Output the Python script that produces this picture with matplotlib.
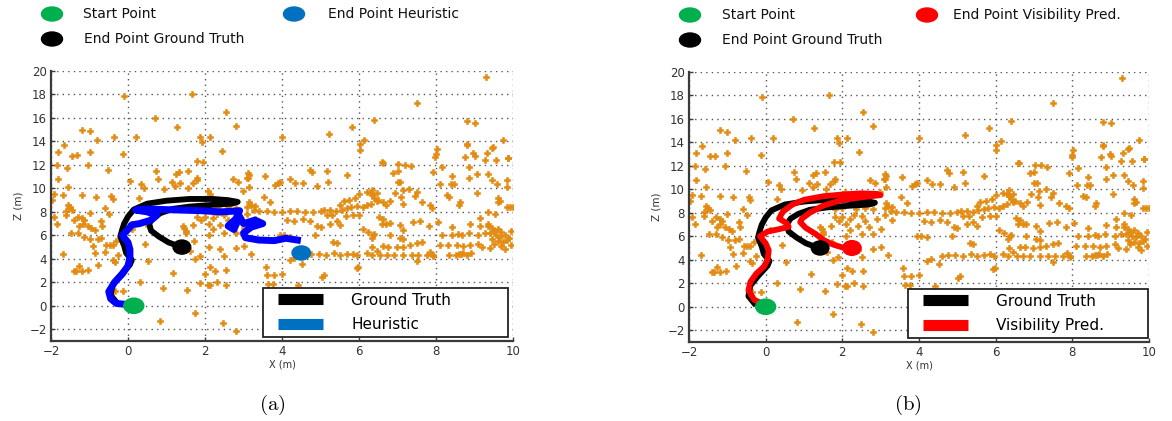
import matplotlib
matplotlib.use("Agg")
import matplotlib.pyplot as plt
from matplotlib.lines import Line2D
from matplotlib.patches import Ellipse
from matplotlib.legend_handler import HandlerLine2D

plt.rcParams['font.family'] = ['DejaVu Sans']
plt.rcParams['mathtext.fontset'] = 'cm'

# ---------------- data ----------------
landmarks = [
    (9.3, 19.5), (-0.1, 17.85), (1.65, 18.0), (7.5, 17.3), (0.7, 16.0), (2.55, 16.55), (6.4, 15.8),
    (8.8, 15.7), (9.0, 15.6), (-1.2, 15.0), (-1.0, 14.9), (1.26, 15.2), (2.81, 15.35), (5.82, 15.2),
    (-0.37, 14.4), (0.2, 14.4), (-0.8, 14.15), (1.87, 14.4), (2.12, 14.4), (1.92, 13.97), (3.99, 14.35),
    (5.21, 14.6), (9.75, 14.15), (-1.66, 13.7), (-1.81, 13.1), (-1.0, 13.1), (-1.45, 12.8), (-1.33, 12.85),
    (-0.12, 12.95), (2.43, 13.2), (6.02, 13.8), (6.13, 14.1), (6.02, 13.3), (8.03, 13.35), (8.0, 12.9),
    (7.98, 12.7), (8.8, 13.7), (9.45, 13.4), (9.33, 13.05), (8.75, 12.7), (9.0, 12.8), (8.97, 12.98),
    (9.87, 12.6), (8.81, 13.75), (9.47, 13.5), (1.78, 12.33), (1.94, 12.28), (-1.84, 12.0), (-1.05, 12.0),
    (-1.58, 11.76), (-0.51, 11.56), (0.74, 11.5), (1.24, 11.22), (1.32, 11.37), (1.56, 11.45), (3.11, 11.28),
    (6.59, 12.27), (6.62, 12.2), (7.19, 12.02), (7.34, 11.93), (7.02, 12.05), (9.26, 12.4), (9.56, 12.4),
    (9.86, 12.56), (8.15, 11.79), (8.87, 11.85), (6.89, 11.34), (7.0, 11.5), (7.91, 11.37), (9.07, 11.2),
    (8.41, 11.05), (8.38, 10.37), (8.46, 10.4), (9.35, 11.2), (9.45, 10.7), (8.87, 10.91), (7.01, 10.57),
    (7.07, 10.57), (9.58, 10.4), (9.85, 10.71), (8.11, 10.35), (9.84, 10.1), (4.73, 11.6), (4.77, 11.4),
    (5.16, 11.5), (5.2, 10.57), (5.7, 11.14), (3.56, 11.05), (3.13, 11.1), (3.08, 10.85), (3.95, 10.55),
    (3.9, 10.45), (3.82, 10.3), (4.21, 10.77), (4.34, 10.43), (4.55, 10.43), (4.9, 10.2), (-1.83, 10.77),
    (0.05, 10.63), (0.79, 10.83), (1.13, 10.54), (1.35, 10.43), (1.68, 10.43), (1.78, 10.7), (1.8, 10.9),
    (2.73, 10.77), (2.85, 10.54), (3.11, 10.86),
    (-1.56, 10.15), (0.35, 10.4), (0.41, 10.03), (0.94, 9.95), (1.23, 10.2), (1.57, 10.0), (2.08, 9.78),
    (2.14, 9.52), (-1.91, 9.52), (-1.69, 9.4), (-1.19, 9.44), (-0.84, 9.3), (-0.44, 9.35), (-0.4, 9.07),
    (0.29, 9.2), (2.98, 9.8), (3.15, 10.15), (-1.97, 9.04), (-1.55, 8.55), (-1.5, 8.4), (-1.45, 8.2),
    (-1.52, 8.3), (3.53, 9.3), (3.13, 8.87), (3.2, 8.58), (3.26, 8.16), (3.69, 8.87), (5.5, 8.6), (5.6, 8.9),
    (5.75, 9.0), (5.9, 9.2), (6.0, 9.5), (6.2, 9.7), (6.35, 9.9), (6.46, 9.6), (6.3, 9.6), (6.35, 9.4),
    (6.5, 9.0), (6.4, 9.2), (6.93, 9.63), (7.13, 9.86), (7.31, 9.98), (7.5, 9.72), (7.45, 9.38), (7.1, 9.3),
    (8.28, 9.44), (8.35, 9.3), (9.06, 9.58), (9.62, 9.15), (9.65, 8.9), (9.6, 8.8), (9.84, 8.44),
    (9.92, 8.44), (10.0, 8.44), (6.46, 8.95), (6.63, 8.87), (6.81, 8.95), (6.7, 8.6), (7.15, 8.67),
    (7.64, 8.87), (7.84, 8.58), (7.9, 8.36), (8.62, 8.87), (8.6, 8.58),
    (3.4, 8.1), (3.6, 8.1), (3.8, 8.0), (4.0, 8.0), (4.2, 8.1), (4.4, 8.1), (4.6, 8.0), (4.8, 8.0),
    (5.0, 8.1), (5.1, 8.15), (5.25, 8.15), (5.4, 8.1), (5.55, 8.2), (5.7, 8.3), (5.8, 8.4), (5.95, 8.5),
    (6.1, 8.4), (6.2, 8.6), (6.3, 8.7), (5.16, 7.7), (5.3, 7.7), (5.65, 7.65), (5.85, 7.7), (6.0, 7.7),
    (4.12, 7.3), (4.3, 7.2), (4.55, 7.4), (4.73, 7.2), (4.9, 6.8), (5.0, 6.7), (3.95, 6.05), (4.04, 6.05),
    (5.25, 7.0), (5.42, 7.2), (5.5, 6.9), (6.1, 6.5), (6.23, 6.25), (6.37, 6.0), (4.86, 6.03), (4.21, 5.9),
    (1.8, 7.6), (2.0, 7.6), (2.2, 7.5), (1.9, 7.3), (2.1, 7.0), (2.3, 7.8), (2.5, 7.7), (2.6, 7.3),
    (2.4, 6.9), (2.2, 6.5), (1.7, 6.9), (2.7, 6.8), (2.9, 7.5), (3.1, 7.8), (3.3, 7.4), (3.0, 6.6),
    (2.8, 6.2), (2.5, 6.2), (2.1, 6.0), (1.5, 6.17), (1.42, 6.8), (1.72, 5.55), (2.35, 8.3), (2.6, 8.4),
    (2.8, 8.3), (3.1, 8.4), (3.3, 8.5), (2.0, 8.4), (1.8, 8.35),
    (6.33, 4.35), (6.55, 4.35), (6.72, 4.3), (6.9, 4.3), (7.15, 4.3), (7.37, 4.3), (7.54, 4.3),
    (7.76, 4.3), (7.93, 4.35), (8.35, 4.3), (8.52, 4.35), (8.65, 4.4), (8.8, 4.3), (8.7, 4.5), (8.6, 4.4),
    (8.9, 4.5), (6.63, 5.1), (6.76, 5.05), (6.98, 5.0), (7.15, 5.05), (7.32, 5.2), (7.5, 5.35),
    (7.63, 5.45), (8.1, 5.2), (8.32, 5.2), (8.54, 5.2), (8.71, 5.1), (8.88, 5.2), (9.1, 5.3), (6.4, 6.1),
    (6.33, 5.8), (6.8, 6.0), (7.06, 5.75), (7.15, 5.7), (8.15, 6.0), (8.41, 6.05), (8.67, 6.0), (9.1, 6.05),
    (9.28, 6.2), (9.35, 6.8), (9.45, 6.6), (9.5, 6.4), (9.6, 6.5), (9.7, 6.3), (9.4, 6.2), (9.55, 6.0),
    (9.65, 5.9), (9.8, 6.0), (9.9, 5.8), (9.45, 5.7), (9.6, 5.5), (9.75, 5.4), (9.85, 5.6), (9.5, 5.3),
    (9.7, 5.1), (9.95, 5.2), (9.4, 4.9), (9.8, 4.8), (9.95, 6.4), (9.35, 7.0), (9.2, 5.0), (6.52, 7.59),
    (6.63, 7.36), (6.59, 7.0), (6.7, 7.0), (6.8, 7.05), (7.06, 6.88), (7.15, 6.45), (7.4, 7.16),
    (7.59, 7.25), (7.83, 6.82), (8.04, 7.14), (8.41, 6.74), (8.58, 6.11), (8.85, 6.2), (9.14, 7.45),
    (8.88, 6.94), (9.14, 6.8), (9.36, 7.96), (9.53, 7.8), (7.5, 3.8), (7.93, 4.2), (7.85, 4.6), (6.2, 4.5),
    (6.35, 5.0), (6.46, 4.7), (5.33, 5.4), (5.42, 5.35), (5.35, 4.5), (5.5, 4.35), (5.7, 4.4), (5.85, 4.45),
    (5.95, 4.3), (5.15, 4.35), (4.95, 4.4), (4.75, 4.4), (3.58, 3.3), (5.94, 3.2), (4.21, 3.9), (4.51, 3.6),
    (5.03, 2.48), (5.08, 2.6), (3.99, 2.68), (3.6, 2.6), (3.78, 2.6), (3.64, 1.83), (3.77, 1.83),
    (4.42, 1.77), (5.98, 3.33), (4.3, 4.1), (4.6, 4.3),
    (-1.41, 2.96), (-1.34, 2.96), (-1.2, 2.96), (-1.28, 3.39), (-1.04, 3.05), (-0.78, 3.5), (-0.35, 3.7),
    (0.3, 2.05), (-0.13, 1.23), (0.9, 1.5), (1.18, 2.76), (1.54, 1.34), (1.86, 1.97), (2.08, 1.8),
    (2.13, 1.75), (2.26, 3.0), (2.55, 3.05), (2.55, 1.77), (1.88, 4.24), (1.75, 3.96), (2.12, 3.33),
    (0.52, 3.8), (0.43, 5.26), (1.75, -0.59), (0.83, -1.3), (2.48, -1.5), (2.81, -2.12), (-0.35, 1.29),
    (-1.91, 7.6), (-1.3, 7.6), (-1.2, 7.5), (-1.13, 7.3), (-1.05, 6.8), (-0.96, 6.6), (-0.87, 6.45),
    (-1.26, 6.8), (-1.18, 7.0), (-0.7, 7.2), (-0.68, 6.8), (-1.84, 7.0), (-1.48, 6.2), (-1.13, 5.9),
    (-0.98, 5.67), (-0.79, 5.67), (-0.7, 5.75), (-0.57, 5.2), (-0.48, 5.15), (-0.4, 5.2), (-0.92, 5.1),
    (-0.6, 4.6), (-0.85, 4.5), (0.51, 6.8), (1.46, 6.6), (1.5, 6.37), (0.1, 6.5), (-1.6, 7.7), (-1.4, 7.3),
    (-0.3, 5.5), (-0.25, 4.3), (-1.7, 4.4), (-0.4, 3.9), (-1.3, 6.2), (-1.0, 7.9), (-1.6, 8.1), (-0.6, 8.3),
    (-0.5, 7.8), (2.1, 5.0), (2.4, 4.8), (2.5, 4.2), (2.8, 4.9), (3.0, 5.1), (3.2, 4.4), (2.3, 2.0),
    (2.0, 2.7), (1.6, 4.7),
]
lm_x = [p[0] for p in landmarks]
lm_y = [p[1] for p in landmarks]

# ground-truth trajectory
gt_x = [-0.3, -0.45, -0.4, -0.2, 0.05, 0.1, -0.05, -0.1, -0.2, -0.15, -0.1, 0.0, 0.15, 0.5, 1.0, 1.6,
        2.2, 2.6, 2.85, 2.7, 2.2, 1.6, 1.15, 0.85, 0.65, 0.55, 0.6, 0.8, 1.05, 1.3, 1.45]
gt_y = [0.3, 0.9, 1.8, 2.6, 3.5, 3.9, 4.5, 5.1, 5.9, 6.5, 7.0, 7.6, 8.2, 8.7, 8.95, 9.1, 9.1, 9.0,
        8.85, 8.7, 8.6, 8.45, 8.25, 7.9, 7.5, 7.0, 6.4, 5.9, 5.4, 5.1, 4.95]

# heuristic trajectory (panel a)
he_x = [0.0, -0.3, -0.45, -0.5, -0.35, -0.15, 0.0, 0.05, 0.05, 0.0, -0.15, 0.0, 0.1, 0.3, 0.6, 0.75,
        0.5, 0.2, 0.45, 0.9, 1.4, 1.9, 2.4, 2.7, 2.9, 2.8, 2.6, 2.75, 2.9, 3.0, 3.3, 3.5, 3.2, 3.0, 3.05,
        3.4, 3.8, 4.1, 4.4]
he_y = [0.1, 0.2, 0.6, 1.2, 2.0, 2.7, 3.4, 4.1, 4.8, 5.4, 6.0, 6.5, 6.9, 7.0, 7.3, 7.7, 8.0, 8.15,
        8.25, 8.2, 8.15, 8.1, 8.0, 8.05, 8.1, 7.4, 6.8, 6.5, 7.6, 7.0, 7.3, 7.0, 6.7, 6.2, 5.8, 5.6,
        5.55, 5.75, 5.6]

# visibility-prediction trajectory (panel b)
vp_x = [-0.05, -0.3, -0.45, -0.4, -0.25, -0.05, 0.05, 0.08, 0.0, -0.15, 0.05, 0.35, 0.6, 0.55, 0.35,
        0.45, 0.7, 1.0, 1.5, 2.0, 2.5, 2.9, 3.0, 2.6, 2.0, 1.5, 1.15, 0.95, 0.9, 1.05, 1.3, 1.5, 1.75,
        2.0, 2.2]
vp_y = [0.2, 0.6, 1.4, 2.1, 2.8, 3.4, 4.0, 4.8, 5.4, 6.0, 6.4, 6.6, 6.8, 7.1, 7.5, 8.1, 8.7, 9.1,
        9.4, 9.55, 9.65, 9.6, 9.5, 9.35, 9.1, 8.6, 8.0, 7.5, 7.2, 6.7, 6.2, 5.7, 5.3, 5.05, 5.0]

# key points: (x, z)
start_a = (0.15, 0.0)
gt_end_a = (1.4, 5.0)
heur_end = (4.5, 4.5)
start_b = (0.0, 0.0)
gt_end_b = (1.42, 5.0)
vis_end = (2.25, 5.0)

x_ticks = [-2, 0, 2, 4, 6, 8, 10]
y_ticks = [-2, 0, 2, 4, 6, 8, 10, 12, 14, 16, 18, 20]

# ---------------- style ----------------
ORANGE = '#E38A10'
GREEN = '#00B04F'
BLUE_DOT = '#0070C0'
BLUE_LINE = '#0000FF'
RED = '#FF0000'

fig = plt.figure(figsize=(11.72, 4.21), dpi=100)
ax_a = fig.add_axes([51 / 1172, 1 - 341 / 421, 462 / 1172, 270 / 421])
ax_b = fig.add_axes([689 / 1172, 1 - 342 / 421, 460 / 1172, 270.3 / 421])


def style_axes(ax):
    ax.set_xlim(-2, 10)
    ax.set_ylim(-3, 20)
    ax.set_xticks(x_ticks)
    ax.set_yticks(y_ticks)
    ax.grid(True, linestyle=(0, (1, 3)), color='#555555', linewidth=1.0)
    ax.set_axisbelow(True)
    for s in ('top', 'right'):
        ax.spines[s].set_visible(False)
    for s in ('left', 'bottom'):
        ax.spines[s].set_color('#3a3a3a')
        ax.spines[s].set_linewidth(1.6)
    ax.tick_params(direction='in', length=3, width=1, colors='#3a3a3a', labelsize=8.5,
                   labelcolor='#333333', pad=3)
    ax.set_xlabel('X (m)', fontsize=7, color='#333333', labelpad=1)
    ax.set_ylabel('Z (m)', fontsize=7.5, color='#333333', labelpad=4)


def dot(ax, xy, color, w=0.5, h=1.25):
    ax.add_patch(Ellipse(xy, w, h, color=color, zorder=6))


def legend_box(ax, color, label, x0, x1):
    handles = [Line2D([], [], color='black', lw=8, solid_capstyle='butt'),
               Line2D([], [], color=color, lw=8, solid_capstyle='butt')]
    leg = ax.legend(handles, ['Ground Truth', label], loc='lower left',
                    bbox_to_anchor=(x0, 0.016, x1 - x0, 0.18), mode='expand',
                    fontsize=11, frameon=True, fancybox=False, framealpha=1,
                    edgecolor='#222222', borderpad=0.3, labelspacing=0.62,
                    handlelength=3.62, handletextpad=1.83, borderaxespad=0,
                    handler_map={Line2D: HandlerLine2D(xpad=0.68)})
    leg.get_frame().set_linewidth(1.3)
    leg.set_zorder(10)


def landmarks_plot(ax):
    ax.plot(lm_x, lm_y, linestyle='none', marker='P', markersize=5, color=ORANGE,
            markeredgecolor=ORANGE, markeredgewidth=0.4, zorder=2)


# panel (a)
style_axes(ax_a)
landmarks_plot(ax_a)
ax_a.plot(gt_x, gt_y, color='black', lw=4.2, solid_joinstyle='round', zorder=3)
ax_a.plot(he_x, he_y, color=BLUE_LINE, lw=5, solid_joinstyle='round', zorder=4)
dot(ax_a, start_a, GREEN, 0.52, 1.3)
dot(ax_a, gt_end_a, 'black', 0.46, 1.2)
dot(ax_a, heur_end, BLUE_DOT, 0.48, 1.2)
legend_box(ax_a, BLUE_DOT, 'Heuristic', 0.4595, 0.9885)

# panel (b)
style_axes(ax_b)
landmarks_plot(ax_b)
ax_b.plot(gt_x, gt_y, color='black', lw=4.2, solid_joinstyle='round', zorder=3)
ax_b.plot(vp_x, vp_y, color=RED, lw=4.2, solid_joinstyle='round', zorder=4)
dot(ax_b, start_b, GREEN, 0.52, 1.3)
dot(ax_b, gt_end_b, 'black', 0.46, 1.2)
dot(ax_b, vis_end, RED, 0.48, 1.25)
legend_box(ax_b, RED, 'Visibility Pred.', 0.476, 0.998)


# top legends (figure level)
def fig_key(xpx, ypx, color, text, txpx):
    fig.add_artist(Ellipse((xpx / 1172, 1 - ypx / 421), 21 / 1172, 14 / 421,
                           color=color, transform=fig.transFigure))
    fig.text(txpx / 1172, 1 - ypx / 421, text, fontsize=10, color='#111111',
             va='center', ha='left')


fig_key(52, 14, GREEN, 'Start Point', 83)
fig_key(294, 14, BLUE_DOT, 'End Point Heuristic', 328)
fig_key(52, 39, 'black', 'End Point Ground Truth', 84)
fig_key(690, 15, GREEN, 'Start Point', 722)
fig_key(927, 15, RED, 'End Point Visibility Pred.', 953)
fig_key(690, 40, 'black', 'End Point Ground Truth', 722)

fig.text(272 / 1172, 1 - 405 / 421, r'$\mathrm{(a)}$', fontsize=15, ha='center', va='center')
fig.text(908 / 1172, 1 - 405 / 421, r'$\mathrm{(b)}$', fontsize=15, ha='center', va='center')

fig.savefig('out.png', dpi=100)
